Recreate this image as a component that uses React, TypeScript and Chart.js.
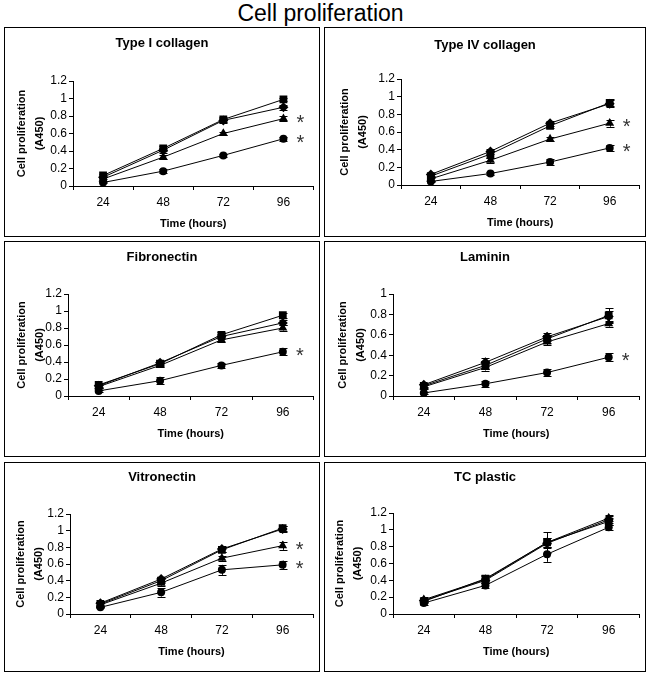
import React, { useEffect, useRef } from "react";
import { Chart, registerables } from "chart.js";

Chart.register(...registerables);

const HOURS = ["24", "48", "72", "96"];
const Y_TITLE = ["Cell proliferation", "(A450)"];
const X_TITLE = "Time (hours)";

// series order: square, diamond, triangle, circle
const collagenIValues = [
  [0.12, 0.43, 0.76, 0.99],
  [0.10, 0.41, 0.75, 0.90],
  [0.08, 0.33, 0.60, 0.77],
  [0.04, 0.17, 0.35, 0.54],
];
const collagenIErrors = [
  [0.02, 0.03, 0.03, 0.02],
  [0.02, 0.03, 0.03, 0.03],
  [0.02, 0.02, 0.02, 0.03],
  [0.01, 0.02, 0.02, 0.02],
];
const collagenIStars = [2, 3];

const collagenIVValues = [
  [0.10, 0.35, 0.67, 0.93],
  [0.12, 0.38, 0.70, 0.92],
  [0.07, 0.28, 0.52, 0.70],
  [0.04, 0.13, 0.26, 0.42],
];
const collagenIVErrors = [
  [0.02, 0.04, 0.03, 0.04],
  [0.02, 0.03, 0.03, 0.04],
  [0.02, 0.03, 0.02, 0.04],
  [0.01, 0.02, 0.03, 0.03],
];
const collagenIVStars = [2, 3];

const fibronectinValues = [
  [0.13, 0.38, 0.72, 0.95],
  [0.12, 0.39, 0.70, 0.86],
  [0.11, 0.36, 0.66, 0.80],
  [0.06, 0.18, 0.36, 0.52],
];
const fibronectinErrors = [
  [0.02, 0.03, 0.03, 0.03],
  [0.02, 0.03, 0.03, 0.03],
  [0.02, 0.02, 0.02, 0.03],
  [0.01, 0.04, 0.03, 0.04],
];
const fibronectinStars = [3];

const lamininValues = [
  [0.10, 0.30, 0.56, 0.79],
  [0.11, 0.33, 0.58, 0.78],
  [0.09, 0.28, 0.53, 0.71],
  [0.03, 0.12, 0.23, 0.38],
];
const lamininErrors = [
  [0.02, 0.04, 0.04, 0.07],
  [0.02, 0.04, 0.04, 0.05],
  [0.02, 0.03, 0.03, 0.03],
  [0.01, 0.03, 0.03, 0.04],
];
const lamininStars = [3];

const vitronectinValues = [
  [0.12, 0.40, 0.77, 1.03],
  [0.13, 0.42, 0.78, 1.02],
  [0.11, 0.37, 0.67, 0.82],
  [0.08, 0.26, 0.53, 0.59],
];
const vitronectinErrors = [
  [0.02, 0.03, 0.03, 0.03],
  [0.02, 0.03, 0.04, 0.03],
  [0.02, 0.03, 0.03, 0.05],
  [0.01, 0.05, 0.06, 0.05],
];
const vitronectinStars = [2, 3];

const tcPlasticValues = [
  [0.15, 0.42, 0.85, 1.10],
  [0.16, 0.40, 0.84, 1.12],
  [0.17, 0.41, 0.85, 1.14],
  [0.13, 0.34, 0.71, 1.03],
];
const tcPlasticErrors = [
  [0.02, 0.04, 0.12, 0.04],
  [0.02, 0.03, 0.06, 0.04],
  [0.03, 0.04, 0.05, 0.04],
  [0.02, 0.03, 0.09, 0.03],
];
const tcPlasticStars: number[] = [];

const POINT_STYLES = ["rect", "rectRot", "triangle", "circle"];
const POINT_RADII = [5.5, 5, 5.2, 4];
const FONT = "'Liberation Sans', Arial, sans-serif";

type Box = { left: number; top: number; width: number; height: number };
type Plot = { left: number; right: number; top: number; bottom: number };

type PanelProps = {
  title: string;
  values: number[][];
  errors: number[][];
  stars: number[];
  yMax: number;
  box: Box;
  plot: Plot;
  yTitleX: number;
  titleY: number;
};

function Panel({ title, values, errors, stars, yMax, box, plot, yTitleX, titleY }: PanelProps) {
  const ref = useRef<HTMLCanvasElement | null>(null);
  const cw = box.width - 2;
  const ch = box.height - 2;
  const ox = box.left + 1;
  const oy = box.top + 1;
  const pl = plot.left - ox;
  const pr = plot.right - ox;
  const pt = plot.top - oy;
  const pb = plot.bottom - oy;

  useEffect(() => {
    if (!ref.current) return;
    const yTitleLH = 11 * 1.6;
    const xTitleLH = 11 * 1.2;
    const extras = {
      id: "extras",
      beforeDatasetsDraw(chart: any) {
        const ctx = chart.ctx;
        const xs = chart.scales.x;
        const ys = chart.scales.y;
        ctx.save();
        ctx.strokeStyle = "#000";
        ctx.lineWidth = 1;
        errors.forEach((errs, si) => {
          errs.forEach((e, i) => {
            const v = values[si][i];
            const x = Math.round(xs.getPixelForValue(i)) + 0.5;
            const y1 = ys.getPixelForValue(v + e);
            const y2 = ys.getPixelForValue(v - e);
            ctx.beginPath();
            ctx.moveTo(x, y1);
            ctx.lineTo(x, y2);
            ctx.moveTo(x - 4, Math.round(y1) + 0.5);
            ctx.lineTo(x + 4, Math.round(y1) + 0.5);
            ctx.moveTo(x - 4, Math.round(y2) + 0.5);
            ctx.lineTo(x + 4, Math.round(y2) + 0.5);
            ctx.stroke();
          });
        });
        ctx.restore();
      },
      afterDatasetsDraw(chart: any) {
        const ctx = chart.ctx;
        const xs = chart.scales.x;
        const ys = chart.scales.y;
        ctx.save();
        ctx.fillStyle = "#333";
        ctx.font = `20px ${FONT}`;
        ctx.textAlign = "center";
        ctx.textBaseline = "alphabetic";
        stars.forEach((si) => {
          const x = xs.getPixelForValue(3) + 17;
          const y = ys.getPixelForValue(values[si][3]);
          ctx.fillText("*", x, y + 10);
        });
        ctx.restore();
      },
    };
    const chart = new Chart(ref.current, {
      type: "line",
      data: {
        labels: HOURS,
        datasets: values.map((vals, si) => ({
          data: vals,
          borderColor: "#000",
          borderWidth: 1,
          backgroundColor: "#000",
          pointStyle: POINT_STYLES[si] as any,
          pointRadius: POINT_RADII[si],
          pointBackgroundColor: "#000",
          pointBorderColor: "#000",
          pointBorderWidth: 0,
          tension: 0,
          fill: false,
        })),
      },
      options: {
        animation: false,
        responsive: false,
        events: [],
        layout: { padding: { left: 0, top: pt, right: cw - pr, bottom: 0 } },
        plugins: { legend: { display: false }, tooltip: { enabled: false }, title: { display: false } },
        scales: {
          x: {
            type: "category",
            offset: true,
            grid: { offset: true, drawOnChartArea: false, drawTicks: true, tickLength: 4, color: "#000" },
            border: { display: true, color: "#000", width: 1 },
            ticks: { color: "#000", font: { family: FONT, size: 12 }, padding: 5, maxRotation: 0, autoSkip: false },
            title: {
              display: true,
              text: X_TITLE,
              color: "#000",
              font: { family: FONT, size: 11, weight: "bold", lineHeight: 1.2 },
              padding: { top: 0, bottom: ch - pb - 38 - xTitleLH / 2 },
            },
            afterFit(scale: any) {
              scale.height = ch - pb;
            },
          },
          y: {
            type: "linear",
            min: 0,
            max: yMax,
            grid: { drawOnChartArea: false, drawTicks: true, tickLength: 4, color: "#000" },
            border: { display: true, color: "#000", width: 1 },
            ticks: {
              stepSize: 0.2,
              autoSkip: false,
              color: "#000",
              font: { family: FONT, size: 12 },
              padding: 2,
              callback: (v: any) => String(Math.round(Number(v) * 10) / 10),
            },
            title: {
              display: true,
              text: Y_TITLE,
              color: "#000",
              font: { family: FONT, size: 11, weight: "bold", lineHeight: 1.6 },
              padding: { top: yTitleX - ox - yTitleLH / 2, bottom: 0 },
            },
            afterFit(scale: any) {
              scale.width = pl;
            },
          },
        },
      } as any,
      plugins: [extras],
    });
    return () => chart.destroy();
  }, []);

  return (
    <div
      style={{
        position: "absolute",
        left: box.left,
        top: box.top,
        width: box.width,
        height: box.height,
        border: "1px solid #000",
        boxSizing: "border-box",
        background: "#fff",
      }}
    >
      <canvas ref={ref} width={cw} height={ch} style={{ position: "absolute", left: 0, top: 0 }} />
      <div
        style={{
          position: "absolute",
          left: 0,
          width: cw,
          top: titleY - oy - 8,
          textAlign: "center",
          fontFamily: FONT,
          fontWeight: "bold",
          fontSize: 13,
          lineHeight: "16px",
          color: "#000",
        }}
      >
        {title}
      </div>
    </div>
  );
}

export default function App() {
  return (
    <div
      style={{
        position: "absolute",
        left: 0,
        top: 0,
        width: 650,
        height: 678,
        background: "#fff",
        overflow: "hidden",
      }}
    >
      <div
        style={{
          position: "absolute",
          left: 0,
          width: 641,
          top: 2,
          textAlign: "center",
          fontFamily: FONT,
          fontSize: 23,
          lineHeight: "23px",
          color: "#000",
        }}
      >
        Cell proliferation
      </div>
      <Panel
        title="Type I collagen"
        values={collagenIValues}
        errors={collagenIErrors}
        stars={collagenIStars}
        yMax={1.2}
        box={{ left: 4, top: 27, width: 316, height: 210 }}
        plot={{ left: 73, right: 315, top: 81, bottom: 186 }}
        yTitleX={22}
        titleY={43}
      />
      <Panel
        title="Type IV collagen"
        values={collagenIVValues}
        errors={collagenIVErrors}
        stars={collagenIVStars}
        yMax={1.2}
        box={{ left: 324, top: 27, width: 322, height: 210 }}
        plot={{ left: 401, right: 640, top: 79, bottom: 185 }}
        yTitleX={345}
        titleY={45}
      />
      <Panel
        title="Fibronectin"
        values={fibronectinValues}
        errors={fibronectinErrors}
        stars={fibronectinStars}
        yMax={1.2}
        box={{ left: 4, top: 241, width: 316, height: 216 }}
        plot={{ left: 68, right: 315, top: 294, bottom: 396 }}
        yTitleX={22}
        titleY={257}
      />
      <Panel
        title="Laminin"
        values={lamininValues}
        errors={lamininErrors}
        stars={lamininStars}
        yMax={1.0}
        box={{ left: 324, top: 241, width: 322, height: 216 }}
        plot={{ left: 393, right: 640, top: 294, bottom: 396 }}
        yTitleX={343}
        titleY={257}
      />
      <Panel
        title="Vitronectin"
        values={vitronectinValues}
        errors={vitronectinErrors}
        stars={vitronectinStars}
        yMax={1.2}
        box={{ left: 4, top: 462, width: 316, height: 210 }}
        plot={{ left: 70, right: 313, top: 514, bottom: 614 }}
        yTitleX={21}
        titleY={477}
      />
      <Panel
        title="TC plastic"
        values={tcPlasticValues}
        errors={tcPlasticErrors}
        stars={tcPlasticStars}
        yMax={1.2}
        box={{ left: 324, top: 462, width: 322, height: 210 }}
        plot={{ left: 393, right: 640, top: 513, bottom: 614 }}
        yTitleX={340}
        titleY={477}
      />
    </div>
  );
}
